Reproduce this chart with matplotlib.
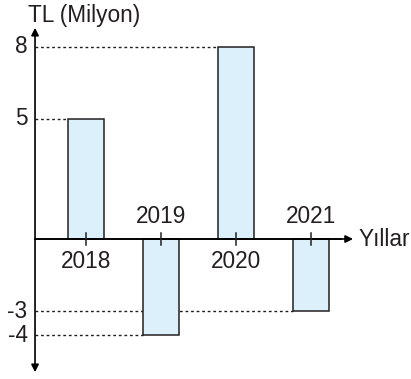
import matplotlib.pyplot as plt

plt.rcParams['font.family'] = ['Liberation Sans', 'DejaVu Sans']

years = ["2018", "2019", "2020", "2021"]
values = [5, -4, 8, -3]

BAR_FILL = "#dcf0fb"
INK = "#231f20"
FS = 16.3

fig = plt.figure(figsize=(4.11, 3.79), dpi=100)
ax = fig.add_axes([0, 0, 1, 1])
ax.set_xlim(-1.147, 4.333)
ax.set_ylim(-5.833, 9.958)
ax.axis("off")

xs = list(range(len(years)))
bar_w = 0.47
ax.bar(xs, values, width=bar_w, color=BAR_FILL, edgecolor=INK,
       linewidth=1.1, zorder=3)

# axes drawn as arrows
y_axis_x = -0.68
ax.annotate("", xy=(y_axis_x, 8.8), xytext=(y_axis_x, -5.55),
            arrowprops=dict(arrowstyle="<|-|>", color="black", lw=1.2,
                            mutation_scale=11, shrinkA=0, shrinkB=0))
ax.annotate("", xy=(3.56, 0), xytext=(y_axis_x, 0),
            arrowprops=dict(arrowstyle="-|>", color="black", lw=1.2,
                            mutation_scale=11, shrinkA=0, shrinkB=0),
            zorder=4)
ax.plot([y_axis_x, 3.4], [0, 0], color="black", lw=1.2, zorder=4)

# small ticks on the year axis
for x in xs:
    ax.plot([x, x], [-0.25, 0.25], color=INK, lw=1.1, zorder=5)

# dotted guides from the y axis to each bar top
for x, v in zip(xs, values):
    ax.plot([y_axis_x, x - bar_w / 2], [v, v], color=INK, lw=1,
            linestyle=(0, (2, 2)), zorder=2)
    ax.text(y_axis_x - 0.1, v, str(v), ha="right", va="center",
            fontsize=FS, color=INK)

# year labels sit on the side opposite the bar
for x, v, label in zip(xs, values, years):
    if v >= 0:
        ax.text(x, -0.45, label, ha="center", va="top", fontsize=FS, color=INK)
    else:
        ax.text(x, 0.45, label, ha="center", va="bottom", fontsize=FS, color=INK)

ax.text(y_axis_x - 0.09, 9.3, "TL (Milyon)", ha="left", va="center",
        fontsize=FS, color=INK)
ax.text(3.63, 0, "Yıllar", ha="left", va="center", fontsize=FS, color=INK)

fig.savefig("out.png", dpi=100)
